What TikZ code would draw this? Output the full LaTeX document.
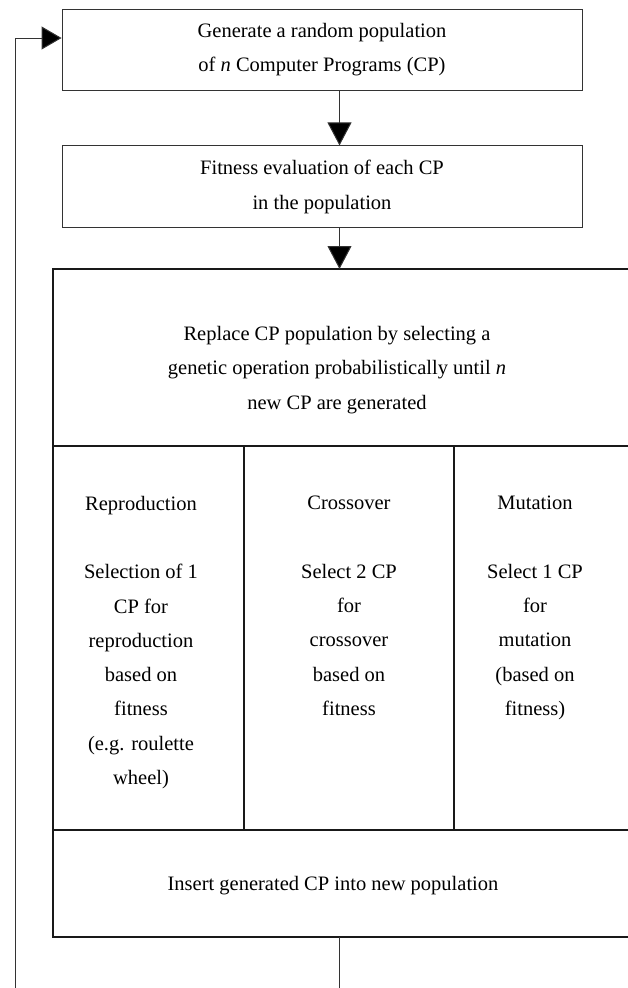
\documentclass[tikz,border=0pt]{standalone}
\usepackage{fontspec}
\setmainfont{Liberation Serif}
\usetikzlibrary{positioning, arrows.meta}

\begin{document}
\begin{tikzpicture}[x=1pt, y=-1pt,
  stepbox/.style={draw=black!80, line width=0.9pt, minimum width=520pt, inner sep=0pt, align=center, font=\fontsize{20.5}{34.5}\selectfont},
  cell/.style={align=center, inner sep=0pt, font=\fontsize{20.5}{34.25}\selectfont},
  frame/.style={line width=2pt, black!90},
  link/.style={draw=black!80, line width=1pt},
  tip/.style={-{Triangle[width=24pt, length=23pt, fill=black]}}]
\useasboundingbox (0,0) rectangle (627,988);

\node[stepbox, minimum height=81pt] (gen) at (322,49.5) {Generate a random population\\of \textit{n} Computer Programs (CP)};
\node[stepbox, minimum height=82pt, below=55pt of gen] (fit) {Fitness evaluation of each CP\\in the population};

% the big table, open to the right
\coordinate (bigtop) at (339.5,269);
\coordinate (bigbot) at (339.5,937);
\draw[frame] (632,269) -| (53,937) -- (632,937);
\draw[frame] (53,446) -- (632,446);
\draw[frame] (53,830) -- (632,830);
\draw[frame] (244,446) -- (244,830);
\draw[frame] (454,446) -- (454,830);

\node[cell] (repl) at (337,370) {Replace CP population by selecting a\\genetic operation probabilistically until \textit{n}\\new CP are generated};
\node[cell, anchor=north] (repro) at (141,496) {Reproduction\\[34.25pt]Selection of 1\\CP for\\reproduction\\based on\\fitness\\(e.g. roulette\\wheel)};
\node[cell, anchor=north] (cross) at (349,496) {Crossover\\[34.25pt]Select 2 CP\\for\\crossover\\based on\\fitness};
\node[cell, anchor=north] (mut) at (535,496) {Mutation\\[34.25pt]Select 1 CP\\for\\mutation\\(based on\\fitness)};
\node[cell] (insert) at (333,886) {Insert generated CP into new population};

% connectors
\coordinate (exit) at (339.5,988);
\coordinate (back) at (15,988);
\draw[link, tip] (gen.south -| bigtop) -- (fit.north -| bigtop);
\draw[link, tip] (fit.south -| bigtop) -- (bigtop);
\draw[link] (bigbot) -- (exit);
\draw[link, -{Triangle[width=23pt, length=20pt, fill=black]}] (back) |- ([yshift=11.5pt]gen.west);

\end{tikzpicture}
\end{document}
